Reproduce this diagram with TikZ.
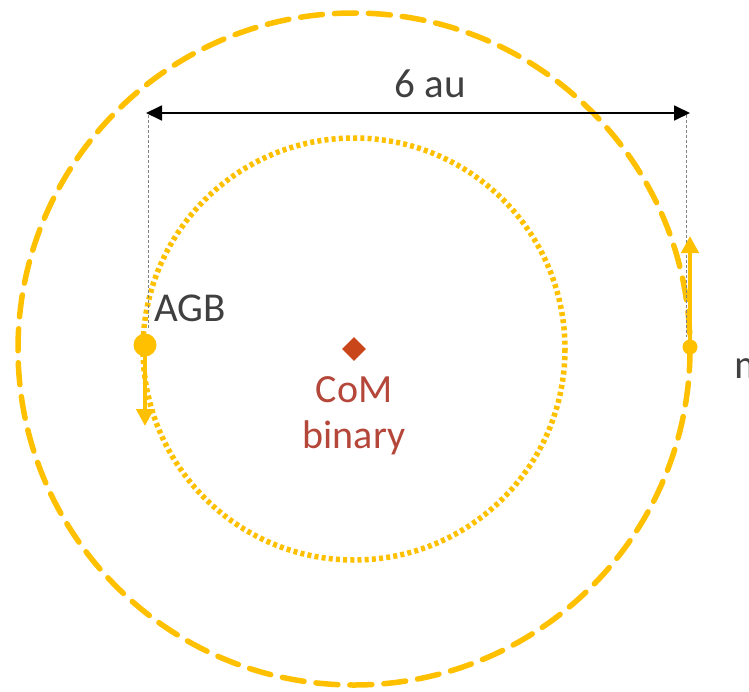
\documentclass[tikz,border=0pt]{standalone}
\usepackage{fontspec}
\setmainfont{Carlito}
\usetikzlibrary{arrows.meta,shapes.geometric}
\definecolor{gold}{HTML}{FFC000}
\definecolor{txtgrey}{HTML}{404040}
\definecolor{comred}{HTML}{B5463A}
\definecolor{diamred}{HTML}{C9461A}
\tikzset{
  orbitout/.style={draw=gold,line width=5.5pt,dash pattern=on 22pt off 12pt,line cap=round},
  orbitin/.style={draw=gold,line width=5.5pt,dash pattern=on 4pt off 3.2pt},
  guide/.style={draw=gray,line width=1pt,dash pattern=on 3pt off 2pt},
  star/.style={circle,fill=gold,inner sep=0pt},
  vel/.style={draw=gold,line width=4.5pt,-{Triangle[length=17pt,width=17pt]}},
  dim/.style={draw=black,line width=1.8pt,{Triangle[length=16pt,width=15pt]}-{Triangle[length=16pt,width=15pt]}},
  lbl/.style={text=txtgrey,font=\fontsize{41}{46}\selectfont,inner sep=0pt}
}
\begin{document}
\begin{tikzpicture}[x=1pt,y=-1pt]
\useasboundingbox (0,0) rectangle (749,691);
\clip (0,0) rectangle (749,691);
\coordinate (c) at (354,349);
\draw[orbitout] (c) circle (336);
\draw[orbitin] (c) circle (211);
\node[diamond,fill=diamred,minimum size=24pt,inner sep=0pt] (com) at (c) {};
\node[text=comred,font=\fontsize{40}{46}\selectfont,align=center,anchor=north,inner sep=0pt] (comlbl) at (354,376) {CoM\\binary};
% dimension
\coordinate (dl) at (146,113);
\coordinate (dr) at (690,113);
\coordinate (gl) at (148,330);
\coordinate (gr) at (686,337);
\coordinate (gl0) at (148,115);
\coordinate (gr0) at (686,115);
\draw[guide] (gl0) -- (gl);
\draw[guide] (gr0) -- (gr);
\draw[dim] (dl) -- (dr);
\node[lbl] (au) at (430,84) {6 au};
% stars
\node[star,minimum size=23pt] (agb) at (145,345) {};
\node[star,minimum size=15pt] (m2) at (690,347) {};
\coordinate (agbv) at (145,426);
\coordinate (m2v) at (690,236);
\draw[vel] (agb.center) -- (agbv);
\draw[vel] (m2.center) -- (m2v);
\node[lbl,anchor=west] (agblbl) at (154,308) {AGB};
\node[lbl,anchor=west] (m2lbl) at (734,372) {m$_2$};
\end{tikzpicture}
\end{document}
